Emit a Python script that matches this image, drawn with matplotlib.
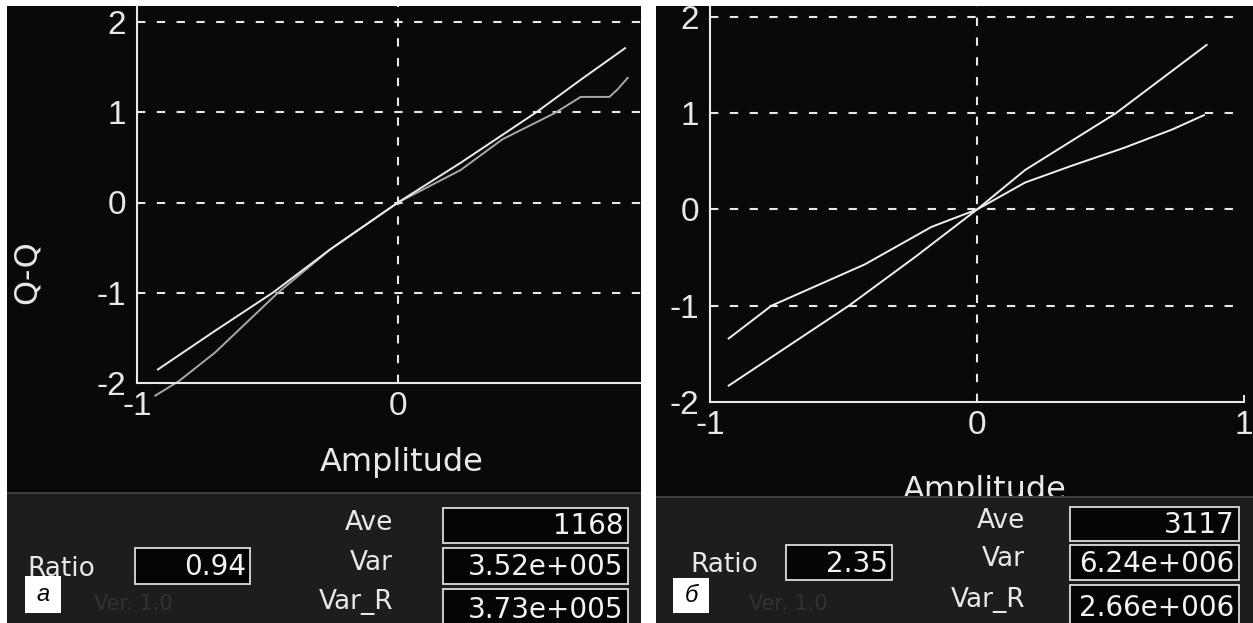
import matplotlib.pyplot as plt
from matplotlib.patches import Rectangle

# Q-Q curves, panel "а"
qq_a_ref_x = [-0.92, -0.70, -0.48, -0.26, 0.0, 0.24, 0.53, 0.70, 0.87]
qq_a_ref_y = [-1.85, -1.42, -1.00, -0.52, 0.0, 0.44, 1.00, 1.36, 1.71]
qq_a_obs_x = [-0.93, -0.84, -0.70, -0.46, -0.26, 0.0, 0.24, 0.40, 0.60, 0.70, 0.81, 0.84, 0.88]
qq_a_obs_y = [-2.14, -1.98, -1.66, -1.00, -0.52, 0.0, 0.36, 0.70, 0.99, 1.17, 1.17, 1.25, 1.38]

# Q-Q curves, panel "б"
qq_b_ref_x = [-0.93, -0.48, -0.23, 0.0, 0.18, 0.52, 0.86]
qq_b_ref_y = [-1.83, -1.00, -0.49, 0.0, 0.41, 1.00, 1.71]
qq_b_obs_x = [-0.93, -0.77, -0.42, -0.17, 0.0, 0.18, 0.35, 0.55, 0.73, 0.85]
qq_b_obs_y = [-1.34, -1.00, -0.57, -0.18, 0.0, 0.28, 0.45, 0.64, 0.83, 0.98]

# readouts under each plot
tags = ['а', 'б']
ave_vals = ['1168', '3117']
var_vals = ['3.52e+005', '6.24e+006']
var_r_vals = ['3.73e+005', '2.66e+006']
ratio_vals = ['0.94', '2.35']

W, H = 1253, 623
FG = '#e8e8e8'

plt.rcParams['font.family'] = ['DejaVu Sans']
fig = plt.figure(figsize=(W / 100, H / 100), dpi=100, facecolor='white')


def rect(x0, y0, x1, y1, **kw):
    fig.patches.append(Rectangle((x0 / W, 1 - y1 / H), (x1 - x0) / W, (y1 - y0) / H,
                                 transform=fig.transFigure, **kw))


def text(x, y, s, **kw):
    fig.text(x / W, 1 - y / H, s, **kw)


def qq_axes(left, right, bottom, top, xlim, ylim, xticks):
    ax = fig.add_axes([left / W, 1 - bottom / H, (right - left) / W, (bottom - top) / H])
    ax.set_facecolor('none')
    ax.set_xlim(*xlim)
    ax.set_ylim(*ylim)
    for s in ['top', 'right']:
        ax.spines[s].set_visible(False)
    for s in ['left', 'bottom']:
        ax.spines[s].set_color(FG)
        ax.spines[s].set_linewidth(1.5)
    ax.set_xticks(xticks, [str(t) for t in xticks], fontfamily='Liberation Sans', fontsize=24)
    ax.set_yticks([-2, -1, 0, 1, 2], ['-2', '-1', '0', '1', '2'],
                  fontfamily='Liberation Sans', fontsize=24)
    ax.tick_params(direction='in', length=5, width=1.4, color=FG, labelcolor=FG)
    ax.tick_params(axis='y', pad=8)
    ax.tick_params(axis='x', pad=6)
    dash = (0, (4, 5.5))
    ax.axvline(0, color=FG, lw=1.5, ls=dash, zorder=1)
    for v in [-1, 0, 1, 2]:
        ax.axhline(v, color=FG, lw=1.5, ls=dash, zorder=1)
    ax.set_xlabel('Amplitude', color=FG, fontsize=23)
    ax.xaxis.label.set_va('center')
    return ax


def readout(i, x_lab, x_box0, x_box1, rows_y, ratio_x, ratio_box, tag_box, ver_x, panel_top, x0, x1):
    rect(x0, panel_top, x1, H, facecolor='#1d1d1d', edgecolor='none', zorder=2)
    rect(x0, panel_top - 1, x1, panel_top + 1, facecolor='#3e3e3e', edgecolor='none', zorder=2)
    names = ['Ave', 'Var', 'Var_R']
    vals = [ave_vals[i], var_vals[i], var_r_vals[i]]
    for (y0, y1, ylab), name, val in zip(rows_y, names, vals):
        text(x_lab, ylab, name, ha='right', va='center', color=FG, fontsize=19, zorder=4)
        rect(x_box0, y0, x_box1, y1, facecolor='#050505', edgecolor='#dcdcdc', lw=1.3, zorder=3)
        text(x_box1 - 5, (y0 + y1) / 2 + 1, val, ha='right', va='center', color='#f2f2f2',
             fontsize=20, zorder=4)
    bx0, by0, bx1, by1 = ratio_box
    text(ratio_x, (by0 + by1) / 2 + 3, 'Ratio', ha='left', va='center', color=FG, fontsize=19, zorder=4)
    rect(bx0, by0, bx1, by1, facecolor='#050505', edgecolor='#dcdcdc', lw=1.3, zorder=3)
    text(bx1 - 4, (by0 + by1) / 2 + 1, ratio_vals[i], ha='right', va='center', color='#f2f2f2',
         fontsize=20, zorder=4)
    tx0, ty0, tx1, ty1 = tag_box
    rect(tx0, ty0, tx1, ty1, facecolor='white', edgecolor='none', zorder=3)
    text((tx0 + tx1) / 2, (ty0 + ty1) / 2, tags[i], ha='center', va='center', color='black',
         fontsize=17, style='italic', fontfamily='Liberation Sans', zorder=4)
    text(ver_x, ty1 - 9, 'Ver. 1.0', ha='left', va='center', color='#323232',
         fontsize=15, zorder=4)


# black screens
rect(7, 6, 641, H, facecolor='#090909', edgecolor='none', zorder=-1)
rect(656, 6, W, H, facecolor='#090909', edgecolor='none', zorder=-1)

# panel а
ax1 = qq_axes(137, 641, 383, 6, (-1, -1 + 504 / 261), (-2, 2 + 16 / 90.25), [-1, 0])
ax1.plot(qq_a_ref_x, qq_a_ref_y, color='#ececec', lw=1.4, clip_on=False, zorder=3)
ax1.plot(qq_a_obs_x, qq_a_obs_y, color='#a8a8a8', lw=1.4, clip_on=False, zorder=2)
ax1.xaxis.set_label_coords((402 - 137) / 504, (383 - 463) / 377)
ax1.set_ylabel('Q-Q', color=FG, fontsize=23)
ax1.yaxis.label.set_va('center')
ax1.yaxis.set_label_coords((27 - 137) / 504, (383 - 272) / 377)

# panel б
ax2 = qq_axes(710, 1244, 402, 6, (-1, 1), (-2, 2 + 11 / 96.25), [-1, 0, 1])
ax2.plot(qq_b_ref_x, qq_b_ref_y, color='#f0f0f0', lw=1.4, clip_on=False, zorder=3)
ax2.plot(qq_b_obs_x, qq_b_obs_y, color='#f0f0f0', lw=1.4, clip_on=False, zorder=3)
ax2.xaxis.set_label_coords((985 - 710) / 534, (402 - 491) / 396)

readout(0, 393, 443, 628, [(508, 543, 523), (548, 584, 563), (589, 628, 602)],
        27, (135, 548, 250, 584), (25, 576, 61, 613), 94, 493, 7, 641)
readout(1, 1025, 1070, 1239, [(507, 541, 521), (545, 580, 559), (585, 628, 600)],
        690, (786, 545, 892, 580), (673, 578, 709, 613), 749, 497, 656, W)

fig.savefig('out.png', dpi=100, facecolor=fig.get_facecolor())
